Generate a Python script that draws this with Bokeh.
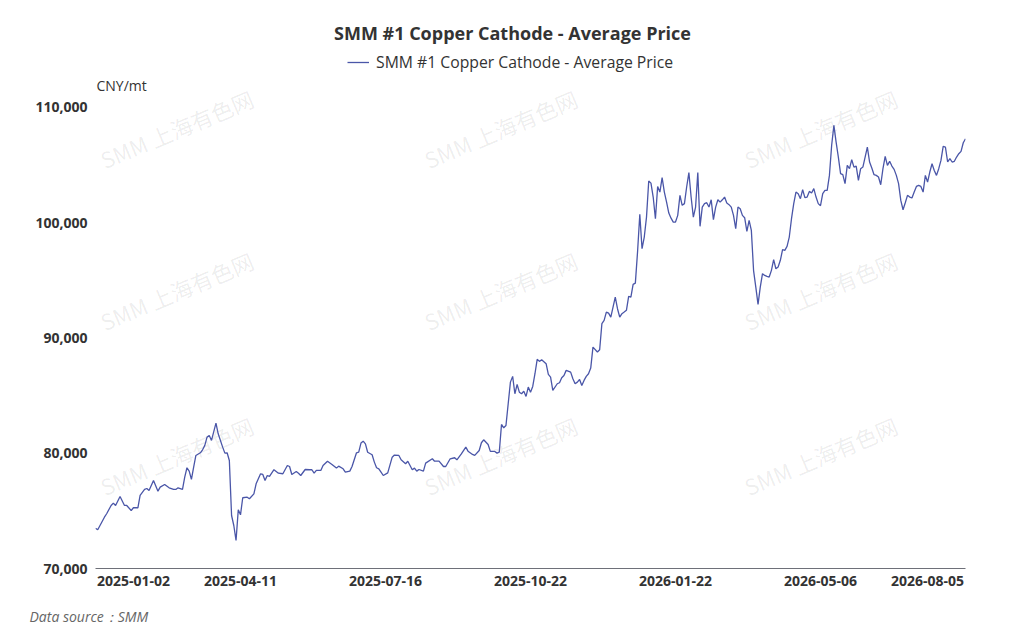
from bokeh.plotting import figure
from bokeh.models import Label, Legend, LegendItem, FixedTicker, Range1d, NumeralTickFormatter, Title
from bokeh.embed import file_html
from bokeh.resources import INLINE

# ---------------- data ----------------
title_text = "SMM #1 Copper Cathode - Average Price"
series_name = "SMM #1 Copper Cathode - Average Price"
unit_text = "CNY/mt"
source_text = "Data source：SMM"
watermark_text = "SMM 上海有色网"

# trading-day index (0 = 2025-01-02) and average price (CNY/mt)
days = [0, 1, 4, 5, 7, 8, 9, 11, 13, 14, 16, 17, 19, 20, 22, 23, 24, 26, 28, 29,
        31, 33, 35, 36, 37, 39, 40, 41, 42, 43, 44, 45, 47, 48, 49, 50, 51, 52, 54, 55,
        57, 58, 59, 60, 61, 62, 63, 64, 65, 66, 68, 69, 71, 72, 74, 75, 76, 77, 78, 80,
        82, 84, 86, 87, 88, 90, 91, 92, 94, 96, 97, 98, 99, 101, 102, 104, 106, 108, 109, 111,
        112, 114, 115, 117, 118, 119, 120, 121, 122, 124, 125, 126, 127, 128, 129, 131, 133, 134, 136, 137,
        139, 140, 142, 143, 144, 145, 147, 148, 151, 152, 154, 156, 157, 159, 161, 162, 164, 166, 167, 169,
        170, 172, 173, 174, 176, 177, 179, 180, 181, 182, 183, 184, 185, 186, 187, 188, 189, 190, 191, 192,
        193, 194, 195, 196, 197, 198, 199, 200, 202, 203, 204, 205, 207, 208, 209, 210, 211, 213, 214, 215,
        216, 217, 218, 219, 220, 221, 222, 223, 225, 226, 227, 228, 229, 230, 231, 232, 233, 234, 235, 236,
        237, 238, 239, 240, 241, 242, 243, 244, 245, 246, 247, 248, 249, 250, 251, 252, 253, 254, 255, 256,
        257, 258, 259, 260, 261, 262, 263, 264, 265, 266, 267, 268, 269, 270, 271, 272, 273, 274, 275, 276,
        277, 278, 279, 280, 281, 282, 283, 284, 285, 286, 287, 288, 289, 290, 291, 292, 293, 294, 295, 296,
        297, 298, 299, 300, 301, 302, 303, 304, 305, 306, 307, 308, 309, 310, 311, 312, 313, 314, 315, 316,
        317, 318, 319, 320, 321, 322, 323, 324, 325, 326, 327, 328, 329, 330, 331, 332, 333, 334, 335, 336,
        337, 338, 339, 340, 341, 342, 343, 344, 345, 346, 347, 348, 349, 350, 351, 352, 353, 354, 355, 356,
        357, 358, 359, 360, 361, 362, 363, 364, 365, 366, 367, 368, 369, 370, 371, 372, 373, 374, 375, 376,
        377, 378, 379, 380, 381, 382, 383, 384, 385, 386, 387, 388, 389, 390]

prices = [73500, 73360, 74450, 74750, 75470, 75670, 75470, 76250, 75470, 75470, 75030, 75270, 75270, 76340, 76860, 76940, 76770, 77640, 76710, 77060,
          77290, 77000, 76860, 76860, 77000, 76860, 77930, 78740, 78450, 77730, 78800, 79810, 80040, 80300, 80680, 81400, 81540, 81110, 82610, 81690,
          80530, 80010, 80040, 79370, 74600, 73730, 72430, 75090, 74660, 76140, 76190, 76050, 76480, 77350, 78220, 78160, 77640, 78070, 77990, 78570,
          78270, 78220, 78940, 78850, 78160, 78420, 78270, 78070, 78590, 78570, 78570, 78270, 78510, 78510, 78940, 79310, 79030, 78710, 78880, 78650,
          78360, 78450, 78850, 80040, 80090, 80880, 81050, 80820, 80090, 79870, 79230, 78740, 78650, 78360, 78070, 78300, 79660, 79840, 79810, 79430,
          79090, 79310, 78570, 78710, 78450, 78590, 78450, 79140, 79520, 79310, 79310, 78850, 78850, 79520, 79610, 79430, 79950, 80530, 80180, 79900,
          79810, 80240, 80910, 81170, 80760, 80160, 80160, 80010, 80090, 82500, 82210, 82410, 84290, 86170, 86670, 85160, 85970, 85300, 85160, 85390,
          84930, 85740, 85300, 85800, 86900, 88150, 87970, 88120, 87770, 86840, 86610, 85460, 86030, 86120, 86550, 86750, 87190, 87040, 86470, 86030,
          86170, 86400, 85880, 86320, 86670, 86900, 87390, 89210, 88780, 88980, 91240, 91530, 92250, 92160, 91810, 92680, 93550, 92540, 91810, 92110,
          92250, 92400, 93610, 93550, 94650, 94760, 97500, 100730, 97750, 98760, 100490, 103620, 103440, 102230, 100350, 103150, 102660, 103910, 102660, 101790,
          100840, 100400, 100060, 100060, 100640, 102380, 101510, 101660, 103100, 104350, 102230, 100490, 101360, 104350, 99690, 101360, 101660, 101740, 101360, 101990,
          100270, 101360, 101990, 101790, 101990, 102230, 101710, 101570, 101360, 100640, 99480, 101360, 101220, 100640, 100440, 99250, 100210, 99340, 95850, 94420,
          92920, 94420, 95580, 95430, 95350, 95290, 95870, 96800, 96010, 96160, 96740, 97660, 97600, 97950, 98760, 100350, 101660, 102660, 102520, 102090,
          102870, 102180, 102230, 102720, 102580, 102960, 102230, 101660, 101480, 102520, 102810, 102810, 104110, 106720, 108450, 107000, 105700, 104260, 104170, 103390,
          104980, 104690, 105470, 104830, 104920, 103680, 104690, 104830, 105700, 106570, 105270, 104750, 104170, 104110, 103970, 103300, 104690, 105760, 104980, 105330,
          104920, 104630, 104110, 103390, 101940, 101130, 101740, 102380, 102230, 102150, 102660, 103150, 103240, 103150, 102660, 104110, 103530, 104400, 105120, 104540,
          104110, 104690, 105410, 106630, 106570, 105270, 105560, 105270, 105330, 105700, 105990, 106190, 106940, 107290]

tick_days = [0, 65, 130, 195, 260, 325, 390]
tick_dates = ["2025-01-02", "2025-04-11", "2025-07-16", "2025-10-22", "2026-01-22", "2026-05-06", "2026-08-05"]
y_ticks = [70000, 80000, 90000, 100000, 110000]

# ---------------- styling ----------------
LINE_COLOR = "#4A56A8"
TEXT_DARK = "#333333"
FONT = "Open Sans"
CJK_FONT = "Noto Sans CJK SC"
label_shift = 17      # first/last date labels are aligned to the plot edges
y_headroom = 9284     # empty space above the top tick that holds title, legend and unit

p = figure(width=1010, height=643, output_backend="svg", toolbar_location=None,
           x_range=Range1d(tick_days[0], tick_days[-1]),
           y_range=Range1d(y_ticks[0], y_ticks[-1] + y_headroom),
           min_border_left=95, min_border_right=45, min_border_top=0, min_border_bottom=75)
p.title = None
p.outline_line_color = None
p.xgrid.visible = False
p.ygrid.visible = False
p.background_fill_color = "white"
p.border_fill_color = "white"

line = p.line(days, prices, line_color=LINE_COLOR, line_width=1.3)

# x axis
shown_ticks = [tick_days[0] + label_shift] + tick_days[1:-1] + [tick_days[-1] - label_shift]
p.xaxis.ticker = FixedTicker(ticks=shown_ticks)
p.xaxis.major_label_overrides = {t: d for t, d in zip(shown_ticks, tick_dates)}
p.xaxis.axis_line_color = "#6E7079"
p.xaxis.axis_line_width = 1
p.xaxis.major_tick_line_color = None
p.xaxis.minor_tick_line_color = None
p.xaxis.major_tick_out = 0
p.xaxis.major_tick_in = 0
p.xaxis.major_label_standoff = 7
p.xaxis.major_label_text_font = FONT
p.xaxis.major_label_text_font_size = "14px"
p.xaxis.major_label_text_font_style = "bold"
p.xaxis.major_label_text_color = TEXT_DARK

# y axis
p.yaxis.ticker = FixedTicker(ticks=y_ticks)
p.yaxis.formatter = NumeralTickFormatter(format="0,0")
p.yaxis.axis_line_color = None
p.yaxis.major_tick_line_color = None
p.yaxis.minor_tick_line_color = None
p.yaxis.major_tick_out = 0
p.yaxis.major_tick_in = 0
p.yaxis.major_label_standoff = 8
p.yaxis.major_label_text_font = FONT
p.yaxis.major_label_text_font_size = "14px"
p.yaxis.major_label_text_font_style = "bold"
p.yaxis.major_label_text_color = TEXT_DARK

# watermarks (screen units relative to plot frame)
for wx in (81, 405, 725):
    for wy in (440, 278, 113):
        p.add_layout(Label(x=wx, y=wy, x_units="screen", y_units="screen", text=watermark_text,
                           angle=0.40, text_align="center", text_baseline="middle",
                           text_font=CJK_FONT, text_font_size="22px",
                           text_color="#000000", text_alpha=0.08, level="underlay"))

# title
p.add_layout(Label(x=417, y=536, x_units="screen", y_units="screen", text=title_text,
                   text_align="center", text_baseline="middle", text_font=FONT,
                   text_font_size="18px", text_font_style="bold", text_color=TEXT_DARK))

# unit label
p.add_layout(Label(x=1, y=483, x_units="screen", y_units="screen", text=unit_text,
                   text_align="left", text_baseline="middle", text_font=FONT,
                   text_font_size="14px", text_color=TEXT_DARK))

# legend
legend = Legend(items=[LegendItem(label=series_name, renderers=[line])],
                location=(252, 495), orientation="horizontal",
                padding=0, margin=0, border_line_color=None, background_fill_alpha=0,
                glyph_width=22, glyph_height=20, label_height=20, label_standoff=7,
                label_text_font=FONT, label_text_font_size="15.75px", label_text_color=TEXT_DARK)
p.add_layout(legend, "center")

# source note below the axis
p.add_layout(Title(text=source_text, align="left", offset=-66, standoff=32,
                   vertical_align="bottom", text_font=FONT, text_font_size="14px",
                   text_font_style="italic", text_color="#666666"), "below")

open("out.html", "w").write(file_html(p, INLINE))
